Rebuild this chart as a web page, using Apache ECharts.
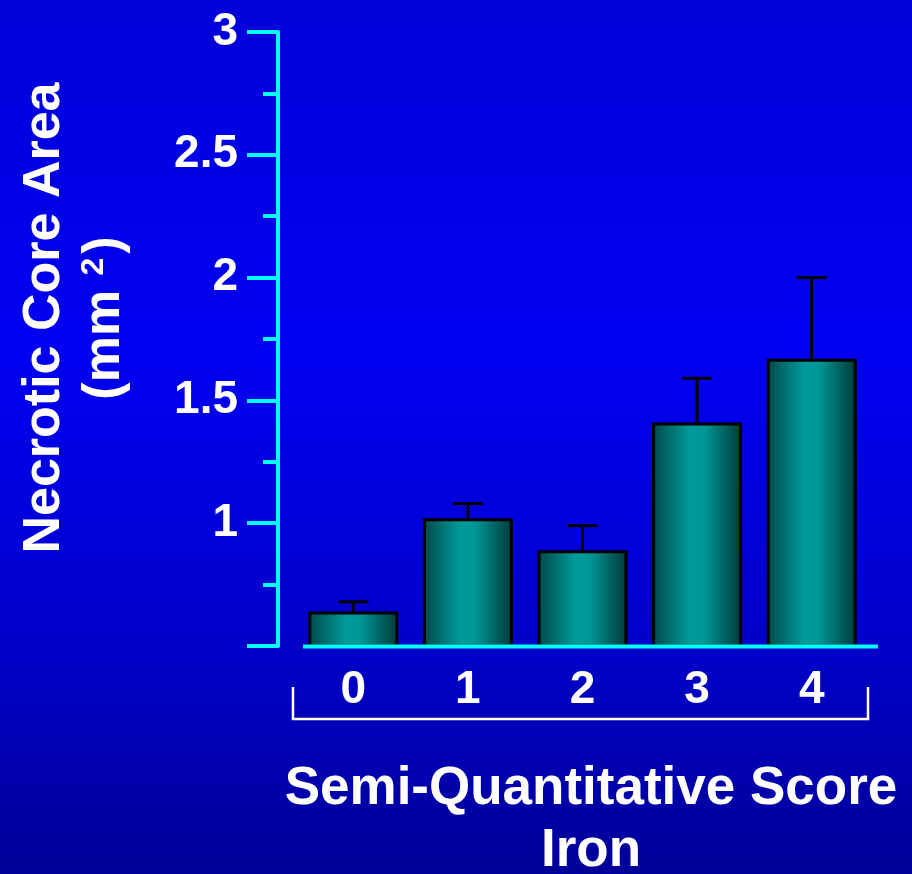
<!DOCTYPE html>
<html>
<head>
<meta charset="utf-8">
<title>Necrotic Core Area by Iron Score</title>
<script src="https://cdn.jsdelivr.net/npm/echarts@6/dist/echarts.min.js"></script>
<style>
  html, body { margin: 0; padding: 0; }
  #chart {
    width: 912px; height: 874px;
    background: linear-gradient(to bottom, #0000d8 0%, #0000f2 40%, #0000c8 75%, #000098 100%);
  }
</style>
</head>
<body>
<div id="chart"></div>
<script>
// Iron semi-quantitative score vs. necrotic core area (mean + SEM)
const scores = ['0', '1', '2', '3', '4'];
const coreArea = [0.64, 1.02, 0.89, 1.41, 1.67];
const coreAreaSem = [0.04, 0.06, 0.10, 0.18, 0.33];
const yTicks = [1, 1.5, 2, 2.5, 3];

const FONT = 'Arial, "Liberation Sans", Helvetica, sans-serif';
const CYAN = '#00ffff';

const chart = echarts.init(document.getElementById('chart'), null, { renderer: 'canvas' });

const barFill = {
  type: 'linear', x: 0, y: 0, x2: 1, y2: 0,
  colorStops: [
    { offset: 0, color: '#004848' },
    { offset: 0.42, color: '#009a9a' },
    { offset: 0.58, color: '#009696' },
    { offset: 1, color: '#003838' }
  ]
};

const errData = scores.map((s, i) => [i, coreArea[i], coreAreaSem[i]]);

const option = {
  backgroundColor: 'transparent',
  animation: false,
  grid: { left: 296, right: 43, top: 32, bottom: 228, containLabel: false },
  xAxis: {
    type: 'category',
    data: scores,
    axisLine: { show: false },
    axisTick: { show: false },
    axisLabel: {
      color: '#ffffff', fontFamily: FONT, fontWeight: 'bold', fontSize: 46,
      margin: 21
    }
  },
  yAxis: {
    type: 'value',
    min: 0.5, max: 3, interval: 0.5,
    offset: 18,
    splitLine: { show: false },
    axisLine: { show: true, lineStyle: { color: CYAN, width: 4 } },
    axisTick: { show: true, length: 31, lineStyle: { color: CYAN, width: 4 } },
    minorTick: { show: true, splitNumber: 2, length: 15, lineStyle: { color: CYAN, width: 4 } },
    axisLabel: {
      color: '#ffffff', fontFamily: FONT, fontWeight: 'bold', fontSize: 46,
      margin: 40,
      padding: [0, 0, 8, 0],
      formatter: v => (yTicks.indexOf(v) >= 0 ? String(v) : '')
    }
  },
  series: [
    {
      type: 'bar',
      data: coreArea,
      barWidth: 90,
      itemStyle: { color: barFill, borderColor: '#000000', borderWidth: 3 },
      z: 2
    },
    {
      type: 'custom',
      data: errData,
      z: 3,
      renderItem: function (params, api) {
        const x = api.value(0), v = api.value(1), e = api.value(2);
        const base = api.coord([x, v]);
        const top = api.coord([x, v + e]);
        const hw = 15;
        const st = { stroke: '#000000', lineWidth: 3 };
        return {
          type: 'group',
          children: [
            { type: 'line', shape: { x1: base[0], y1: base[1], x2: top[0], y2: top[1] }, style: st },
            { type: 'line', shape: { x1: top[0] - hw, y1: top[1], x2: top[0] + hw, y2: top[1] }, style: st }
          ]
        };
      }
    }
  ],
  graphic: [
    // cyan baseline under the bars
    {
      type: 'line', z: 10,
      shape: { x1: 303, y1: 646.5, x2: 878, y2: 646.5 },
      style: { stroke: CYAN, lineWidth: 4 }
    },
    // white bracket grouping the score labels
    {
      type: 'polyline', z: 10,
      shape: { points: [[293, 687], [293, 719], [868, 719], [868, 687]] },
      style: { stroke: '#ffffff', lineWidth: 2.5, fill: null }
    },
    // y axis title
    {
      type: 'text', z: 10,
      x: 75, y: 318, rotation: Math.PI / 2,
      style: {
        text: 'Necrotic Core Area\n{p|(mm }{s|2}{p|)}',
        fill: '#ffffff', font: 'bold 52px ' + FONT,
        align: 'center', verticalAlign: 'middle', lineHeight: 60,
        rich: {
          p: { fill: '#ffffff', font: 'bold 52px ' + FONT, lineHeight: 60 },
          s: { fill: '#ffffff', font: 'bold 32px ' + FONT, lineHeight: 60, padding: [0, 4, 22, 0] }
        }
      }
    },
    // x axis title
    {
      type: 'text', z: 10,
      x: 591, y: 820,
      style: {
        text: 'Semi-Quantitative Score\nIron',
        fill: '#ffffff', font: 'bold 53px ' + FONT,
        align: 'center', verticalAlign: 'middle', lineHeight: 62
      }
    }
  ]
};

chart.setOption(option);
</script>
</body>
</html>
